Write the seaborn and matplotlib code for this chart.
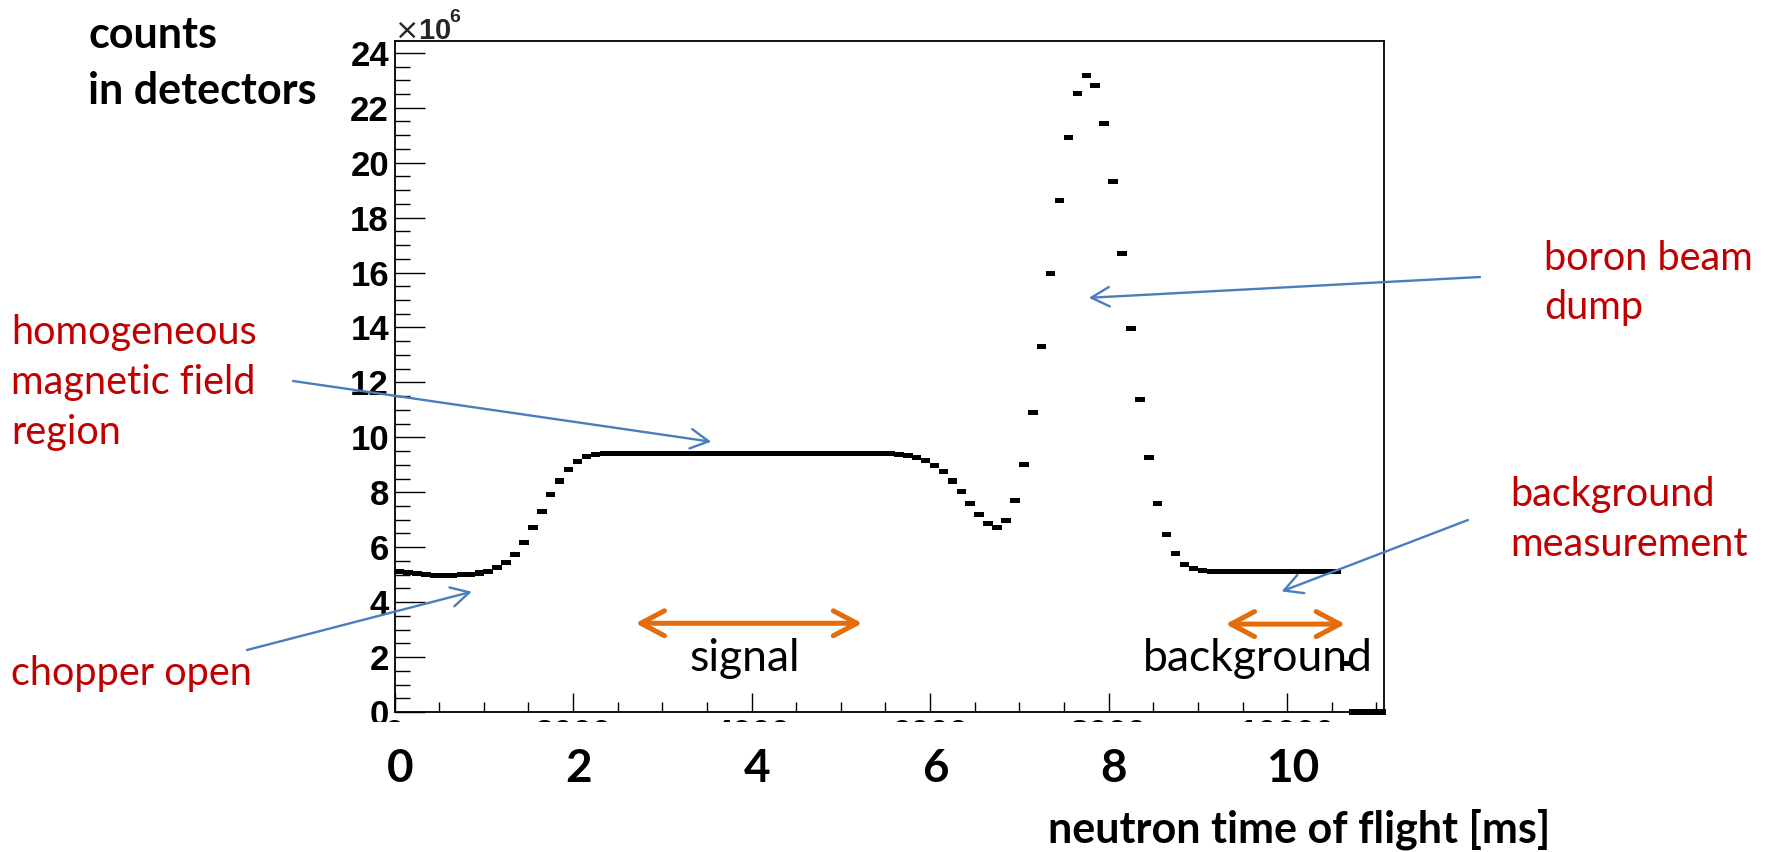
import numpy as np
import pandas as pd
import matplotlib
matplotlib.use("Agg")
import matplotlib.pyplot as plt
import matplotlib.transforms as mtransforms
from matplotlib.patches import Rectangle
from matplotlib.path import Path
from matplotlib.ticker import MultipleLocator
import seaborn as sns

# ---------------- data (counts in units of 1e6, 0.1 ms bins) ----------------
bin_centers_ms = np.round(np.arange(0.05, 11.1, 0.1), 2)
counts_1e6 = [
    # 0.05 - 0.95
    5.10, 5.07, 5.03, 5.00, 4.97, 4.96, 4.97, 4.99, 5.02, 5.06,
    # 1.05 - 1.95
    5.13, 5.25, 5.44, 5.72, 6.16, 6.70, 7.31, 7.91, 8.41, 8.84,
    # 2.05 - 2.95
    9.12, 9.31, 9.38, 9.41, 9.42, 9.42, 9.42, 9.42, 9.42, 9.42,
    # 3.05 - 3.95
    9.42, 9.42, 9.42, 9.42, 9.42, 9.42, 9.42, 9.42, 9.42, 9.42,
    # 4.05 - 4.95
    9.42, 9.42, 9.42, 9.42, 9.42, 9.42, 9.42, 9.42, 9.42, 9.42,
    # 5.05 - 5.95
    9.42, 9.42, 9.42, 9.42, 9.42, 9.41, 9.39, 9.35, 9.28, 9.16,
    # 6.05 - 6.95
    8.99, 8.75, 8.41, 8.04, 7.60, 7.19, 6.86, 6.72, 6.98, 7.71,
    # 7.05 - 7.95
    9.02, 10.91, 13.30, 15.95, 18.64, 20.93, 22.53, 23.16, 22.80, 21.44,
    # 8.05 - 8.95
    19.31, 16.68, 13.95, 11.38, 9.25, 7.60, 6.46, 5.76, 5.37, 5.21,
    # 9.05 - 9.95
    5.15, 5.13, 5.12, 5.12, 5.12, 5.12, 5.12, 5.12, 5.12, 5.12,
    # 10.05 - 10.55
    5.12, 5.12, 5.12, 5.12, 5.12, 5.12,
    # 10.65 - 11.05
    1.75, 0.0, 0.0, 0.0, 0.0,
]

root_xtick_values = [0, 2, 4, 6, 8, 10]
root_xtick_labels = ["0", "2000", "4000", "6000", "8000", "10000"]
ms_tick_labels = ["0", "2", "4", "6", "8", "10"]
ytick_values = list(range(0, 25, 2))

ylabel_lines = ["counts", "in detectors"]
xlabel_text = "neutron time of flight [ms]"
homog_lines = ["homogeneous", "magnetic field", "region"]
chopper_text = "chopper open"
boron_lines = ["boron beam", "dump"]
bgmeas_lines = ["background", "measurement"]
signal_label = "signal"
background_label = "background"

# arrow targets in data coordinates (ms, 1e6 counts)
chopper_tip = (0.866, 4.38)
homog_tip = (3.548, 9.84)
boron_tip = (7.778, 15.08)
bgmeas_tip = (9.938, 4.39)
signal_range = (2.70, 5.24, 3.23)
background_range = (9.31, 10.65, 3.20)

df = pd.DataFrame({"time_ms": bin_centers_ms, "counts": counts_1e6})

# ---------------- figure ----------------
W, H = 1767, 852
sns.set_theme(style="white")
plt.rcParams["font.family"] = ["Lato", "DejaVu Sans"]

fig = plt.figure(figsize=(W / 100, H / 100), dpi=100)
fig.patch.set_facecolor("white")

x0, x1, y0, y1 = 394.5, 1384.0, 712.0, 41.0
ax = fig.add_axes([x0 / W, 1 - y0 / H, (x1 - x0) / W, (y0 - y1) / H])
ax.set_facecolor("white")


def fx(px):
    return px / W


def fy(py):
    return 1 - py / H


rect_marker = Path([(-1, -0.53), (1, -0.53), (1, 0.53), (-1, 0.53), (-1, -0.53)],
                   closed=True)
sns.scatterplot(data=df, x="time_ms", y="counts", marker=rect_marker, s=47,
                color="black", edgecolor="none", linewidth=0, ax=ax,
                legend=False, clip_on=False, zorder=3)

ax.set_xlim(0, 11.085)
ax.set_ylim(0, 24.43)
ax.set_xlabel("")
ax.set_ylabel("")

for sp in ax.spines.values():
    sp.set_visible(True)
    sp.set_color("black")
    sp.set_linewidth(1.3)

root_font = dict(family=["Liberation Sans", "DejaVu Sans"], weight="bold", size=25)
ax.set_xticks(root_xtick_values)
ax.set_xticklabels(root_xtick_labels, fontdict=root_font)
ax.set_yticks(ytick_values)
ax.set_yticklabels([str(v) for v in ytick_values], fontdict=root_font)
ax.xaxis.set_minor_locator(MultipleLocator(0.5))
ax.yaxis.set_minor_locator(MultipleLocator(0.5))
ax.tick_params(axis="both", which="both", direction="in", top=False, right=False,
               bottom=True, left=True, colors="black", width=1.0)
ax.tick_params(axis="x", which="major", length=13.7, pad=4)
ax.tick_params(axis="x", which="minor", length=7.2)
ax.tick_params(axis="y", which="major", length=21.6, pad=4)
ax.tick_params(axis="y", which="minor", length=10.8)

# x10^6 multiplier
fig.text(fx(394), fy(39), r"$\times$10", ha="left", va="baseline",
         family=["Liberation Sans", "DejaVu Sans"], weight="bold", fontsize=21)
fig.text(fx(449), fy(22), "6", ha="left", va="baseline",
         family=["Liberation Sans", "DejaVu Sans"], weight="bold", fontsize=14)

# white cover over the original (clipped) ROOT x labels
fig.add_artist(Rectangle((fx(300), 0), fx(1420) - fx(300), fy(722), transform=fig.transFigure,
                         facecolor="white", edgecolor="none", zorder=1))

# ms tick labels
blend = mtransforms.blended_transform_factory(ax.transData, fig.transFigure)
for v, lab in zip(root_xtick_values, ms_tick_labels):
    fig.text(v + 0.06, fy(782), lab, transform=blend, ha="center", va="baseline",
             fontsize=33, weight="bold", color="black", zorder=5)

# axis titles
fig.text(fx(88), fy(48), ylabel_lines[0], ha="left", va="baseline", fontsize=31,
         weight="bold", color="black", zorder=5)
fig.text(fx(88), fy(104), ylabel_lines[1], ha="left", va="baseline", fontsize=31,
         weight="bold", color="black", zorder=5)
fig.text(fx(1048), fy(843), xlabel_text, ha="left", va="baseline", fontsize=31,
         weight="bold", color="black", zorder=5)

red = "#C00000"
for i, line in enumerate(homog_lines):
    fig.text(fx(11), fy(344 + 50 * i), line, ha="left", va="baseline", fontsize=28.5,
             color=red, zorder=5)
fig.text(fx(11), fy(685), chopper_text, ha="left", va="baseline", fontsize=28.5,
         color=red, zorder=5)
for i, line in enumerate(boron_lines):
    fig.text(fx(1544), fy(270 + 49 * i), line, ha="left", va="baseline", fontsize=28.5,
             color=red, zorder=5)
for i, line in enumerate(bgmeas_lines):
    fig.text(fx(1510), fy(506 + 50 * i), line, ha="left", va="baseline", fontsize=28.5,
             color=red, zorder=5)

# blue annotation arrows
blue = "#4A7EBB"
blue_props = dict(arrowstyle="->,head_length=13,head_width=7", color=blue, lw=1.7,
                  mutation_scale=1, shrinkA=0, shrinkB=0)
for tip, tail in [(chopper_tip, (247, 650)), (homog_tip, (293, 381)),
                  (boron_tip, (1480, 277)), (bgmeas_tip, (1468, 520))]:
    ax.annotate("", xy=tip, xycoords="data", xytext=(fx(tail[0]), fy(tail[1])),
                textcoords="figure fraction", arrowprops=blue_props,
                annotation_clip=False, zorder=6)

# orange range arrows
orange = "#E46C0A"
orange_props = dict(arrowstyle="<->,head_length=17,head_width=9", color=orange, lw=3.6,
                    mutation_scale=1, shrinkA=0, shrinkB=0, capstyle="round",
                    joinstyle="round")
for xa, xb, yv in [signal_range, background_range]:
    ax.annotate("", xy=(xb, yv), xytext=(xa, yv), xycoords="data", textcoords="data",
                arrowprops=orange_props, annotation_clip=False, zorder=6)

ax.text((signal_range[0] + signal_range[1]) / 2 - 0.05, 1.50, signal_label, ha="center",
        va="baseline", fontsize=32, color="black", zorder=7)
ax.text(9.67, 1.50, background_label, ha="center", va="baseline", fontsize=32,
        color="black", zorder=7)

fig.savefig("out.png", dpi=100, facecolor="white")
